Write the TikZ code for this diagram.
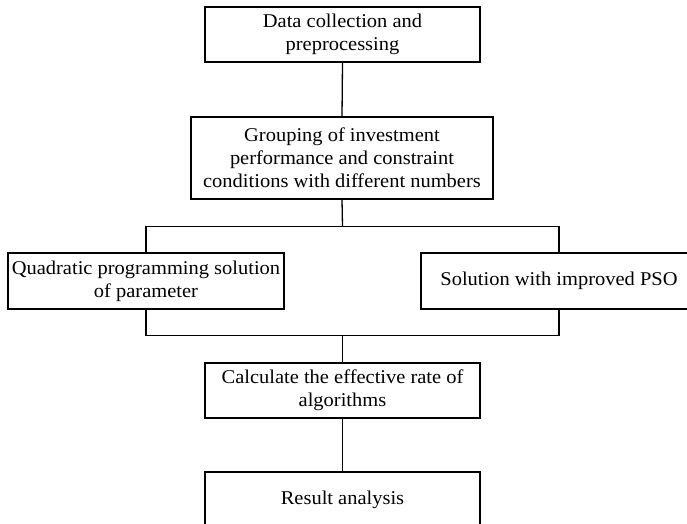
\documentclass[tikz,border=0pt]{standalone}
\usepackage{fontspec}
\setmainfont{Liberation Serif}[FakeStretch=1.05]
\begin{document}
\begin{tikzpicture}[x=1pt,y=-1pt,
  box/.style={draw, line width=1.3pt, inner sep=0pt, align=center,
    font=\fontsize{19.5}{23}\selectfont},
  link/.style={line width=1.3pt}]
\useasboundingbox (0,0) rectangle (687,523);
\clip (0,0) rectangle (687,523);
\node[box, minimum width=275pt, minimum height=55pt] (A) at (342.5,34.5) {Data collection and\\preprocessing};
\node[box, minimum width=302pt, minimum height=82pt] (B) at (342,158) {Grouping of investment\\performance and constraint\\conditions with different numbers};
\node[box, minimum width=276pt, minimum height=56pt] (L) at (146,281) {Quadratic programming solution\\of parameter};
\node[box, minimum width=276pt, minimum height=56pt] (R) at (559,281) {Solution with improved PSO};
\node[box, minimum width=275pt, minimum height=55pt] (C) at (342.5,390.5) {Calculate the effective rate of\\algorithms};
\node[box, minimum width=275pt, minimum height=55pt] (D) at (342.5,499.5) {Result analysis};
\coordinate (j1) at (342.5,226.5);
\coordinate (j2) at (342.5,335.5);
\draw[link] (A.south) -- (B.north);
\draw[link] (B.south) -- (j1);
\draw[link] (L.north) -- (L.north |- j1) -- (R.north |- j1) -- (R.north);
\draw[link] (L.south) -- (L.south |- j2) -- (R.south |- j2) -- (R.south);
\draw[link] (j2) -- (C.north);
\draw[link] (C.south) -- (D.north);
\end{tikzpicture}
\end{document}
